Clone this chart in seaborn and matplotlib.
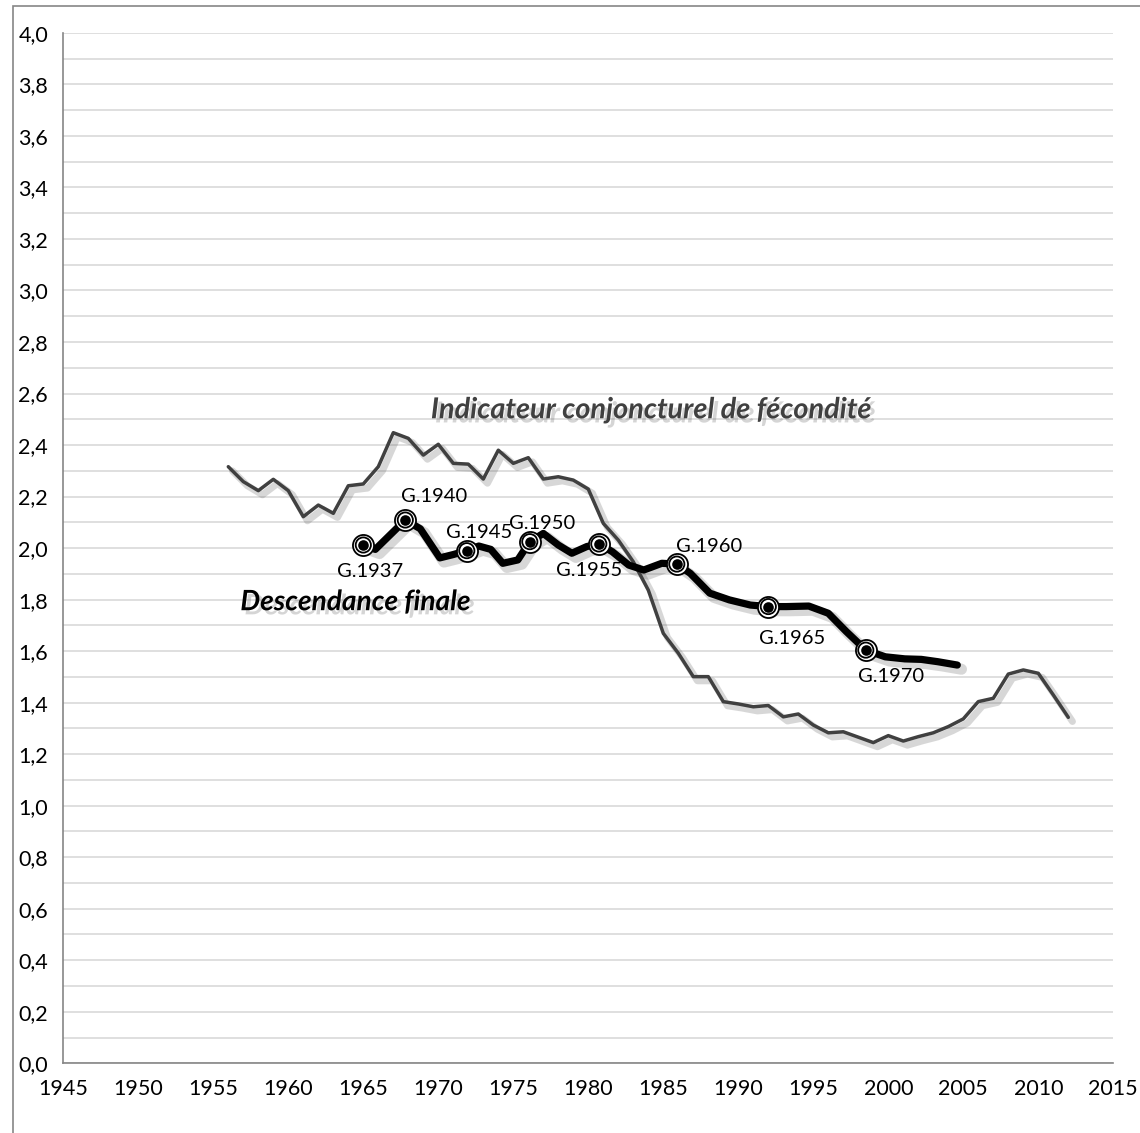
import numpy as np
import pandas as pd
import matplotlib
matplotlib.use("Agg")
import matplotlib.pyplot as plt
import matplotlib.patheffects as pe
from matplotlib.patches import Rectangle
from matplotlib.ticker import MultipleLocator, FuncFormatter
import seaborn as sns

# Indicateur conjoncturel de fécondité (par année)
icf_years = list(range(1956, 2013))
icf_values = [2.316, 2.258, 2.223, 2.267, 2.223, 2.122, 2.167, 2.135, 2.242, 2.249,
              2.316, 2.448, 2.426, 2.361, 2.403, 2.329, 2.326, 2.268, 2.380, 2.329,
              2.351, 2.268, 2.277, 2.264, 2.229, 2.096, 2.031, 1.947, 1.837, 1.669,
              1.592, 1.501, 1.501, 1.404, 1.395, 1.384, 1.389, 1.345, 1.356, 1.313,
              1.283, 1.287, 1.266, 1.245, 1.272, 1.251, 1.268, 1.283, 1.307, 1.337,
              1.404, 1.417, 1.511, 1.527, 1.514, 1.430, 1.343]

# Descendance finale (générations placées à l'année moyenne de maternité)
df_x = [1965.0, 1965.8, 1967.8, 1968.8, 1970.1, 1971.0, 1971.9, 1972.7, 1973.5, 1974.3,
        1975.3, 1976.1, 1977.0, 1978.0, 1978.9, 1979.9, 1980.7, 1981.6, 1982.7, 1983.7,
        1984.9, 1985.9, 1986.8, 1988.1, 1989.4, 1990.8, 1992.0, 1993.2, 1994.7, 1996.0,
        1997.2, 1998.5, 1999.8, 2001.1, 2002.2, 2003.3, 2004.6]
df_values = [2.012, 1.995, 2.109, 2.075, 1.962, 1.975, 1.990, 2.008, 1.995, 1.941,
             1.954, 2.025, 2.057, 2.012, 1.980, 2.006, 2.016, 1.986, 1.934, 1.915,
             1.941, 1.938, 1.902, 1.825, 1.799, 1.779, 1.773, 1.773, 1.775, 1.747,
             1.676, 1.604, 1.578, 1.570, 1.568, 1.559, 1.546]

gen_labels = ["G.1937", "G.1940", "G.1945", "G.1950", "G.1955", "G.1960", "G.1965", "G.1970"]
gen_idx = [0, 2, 6, 11, 16, 21, 26, 31]
# décalage des étiquettes (points)
gen_offsets = [(5, -19), (21, 17), (9, 13), (9, 13), (-7, -19), (23, 13), (17, -23), (18, -19)]

sns.set_style("white")
plt.rcParams['font.family'] = ['Lato', 'DejaVu Sans']

fig = plt.figure(figsize=(11.4, 11.33), dpi=100)
ax = fig.add_axes([63.3 / 1140, 1 - 1063.3 / 1133, 1050 / 1140, 1030.4 / 1133])

shadow = lambda lw: [pe.SimpleLineShadow(offset=(3, -3), shadow_color='0.3', alpha=0.22, linewidth=lw),
                     pe.Normal()]

icf = pd.DataFrame({"annee": icf_years, "valeur": icf_values})
dfin = pd.DataFrame({"annee": df_x, "valeur": df_values})

sns.lineplot(data=icf, x="annee", y="valeur", ax=ax, color="#404040", linewidth=2.5,
             path_effects=shadow(5))
sns.lineplot(data=dfin, x="annee", y="valeur", ax=ax, color="black", linewidth=5.2,
             sort=False, path_effects=shadow(8), solid_capstyle="round", solid_joinstyle="round")

mk = dfin.iloc[gen_idx]
for s, fc in [(230, 'white'), (120, 'none'), (40, 'black')]:
    sns.scatterplot(data=mk, x="annee", y="valeur", ax=ax, s=s, facecolor=fc,
                    edgecolor="black", linewidth=1.3, zorder=5, legend=False)

for lab, i, off in zip(gen_labels, gen_idx, gen_offsets):
    ax.annotate(lab, (df_x[i], df_values[i]), xytext=off, textcoords="offset points",
                ha="center", va="center", fontsize=14.5, color="black", zorder=6)

txt_shadow = [pe.withSimplePatchShadow(offset=(3, -3), shadow_rgbFace='0.35', alpha=0.25)]
ax.text(1969.5, 2.535, "Indicateur conjoncturel de fécondité", fontsize=20.8, fontweight="bold",
        fontstyle="italic", color="#404040", ha="left", va="center", path_effects=txt_shadow)
ax.text(1956.8, 1.79, "Descendance finale", fontsize=20.2, fontweight="bold",
        fontstyle="italic", color="black", ha="left", va="center", path_effects=txt_shadow)

ax.set_xlim(1945, 2015)
ax.set_ylim(0, 4)
ax.xaxis.set_major_locator(MultipleLocator(5))
ax.yaxis.set_major_locator(MultipleLocator(0.2))
ax.yaxis.set_minor_locator(MultipleLocator(0.1))
ax.yaxis.set_major_formatter(FuncFormatter(lambda v, p: f"{v:.1f}".replace(".", ",")))
ax.grid(axis="y", which="both", color="#d9d9d9", linewidth=1.2)
ax.set_axisbelow(True)
ax.tick_params(axis="both", which="major", direction="out", length=6, width=1,
               color="#868686", labelsize=15.5, labelcolor="black", pad=5)
ax.tick_params(axis="y", which="minor", length=0)
ax.set_xlabel("")
ax.set_ylabel("")
for side in ["top", "right"]:
    ax.spines[side].set_visible(False)
for side in ["left", "bottom"]:
    ax.spines[side].set_color("#868686")
    ax.spines[side].set_linewidth(1.2)

# cadre du graphique
fig.patches.append(Rectangle((13 / 1140, -0.1), 1.2, 1.1 - 6 / 1133, transform=fig.transFigure,
                             fill=False, edgecolor="#868686", linewidth=1.2))

fig.savefig("out.png", dpi=100)
